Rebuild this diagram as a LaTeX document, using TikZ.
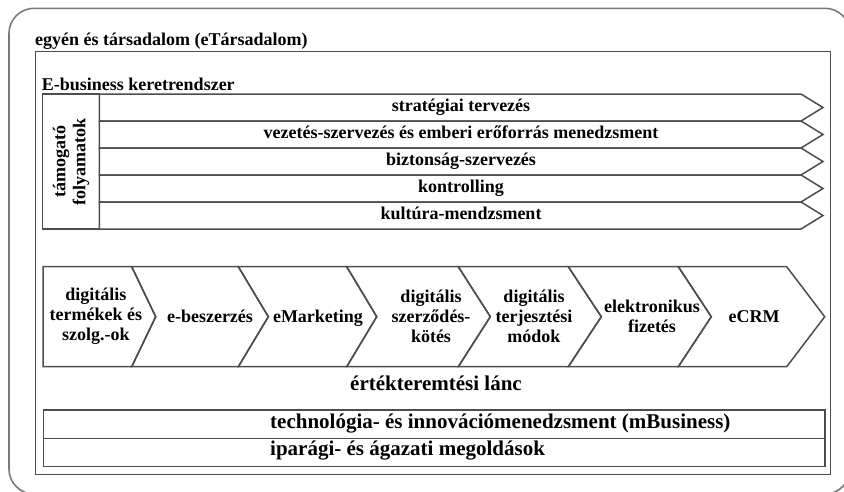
\documentclass[tikz,border=0pt]{standalone}
\usepackage{fontspec}
\setmainfont{Liberation Serif}[BoldFont={Liberation Serif Bold}]
\definecolor{ln}{HTML}{4D4D4D}
\definecolor{outerln}{HTML}{7A7A7A}
\begin{document}
\begin{tikzpicture}[x=1pt,y=-1pt,line join=miter,
  box/.style={draw=ln,line width=1.5pt},
  lbl/.style={font=\fontsize{18}{20}\selectfont\bfseries,inner sep=0pt,align=center},
  big/.style={font=\fontsize{21}{24}\selectfont\bfseries,inner sep=0pt}]
\useasboundingbox (0,0) rectangle (844,491);
\begin{scope}
  \clip (0,0) rectangle (844,491);
  \draw[draw=outerln,line width=1.6pt,rounded corners=25pt] (9,8.3) rectangle (850,494);
\end{scope}
% society box
\node[lbl,anchor=base west] (society) at (35,45) {egyén és társadalom (eTársadalom)};
\draw[box] (35.7,51.7) rectangle (830.7,474.3);
% e-business framework
\node[lbl,anchor=base west] (framework) at (41.7,90.7) {E-business keretrendszer};
\draw[box] (42.7,94) rectangle (99.3,229);
\node[lbl,rotate=90] (support) at (71,161.5) {támogató\\folyamatok};
\foreach \t/\txt [count=\i] in {94/stratégiai tervezés,121/vezetés-szervezés és emberi erőforrás menedzsment,148/biztonság-szervezés,175/kontrolling,202/kultúra-mendzsment}{
  \draw[box] (99.3,\t) -- (801,\t) -- (823,\t+13.5) -- (801,\t+27) -- (99.3,\t+27) -- cycle;
  \node[lbl,anchor=base] (sup\i) at (461,\t+17.5) {\txt};
}
% value chain chevrons
\def\ct{266.7}\def\cm{316.7}\def\cb{366.7}
\draw[box] (43,\ct) -- (131.7,\ct) -- (155.7,\cm) -- (131.7,\cb) -- (43,\cb) -- cycle;
\foreach \a/\da/\b/\db in {131.7/24/238.3/30, 238.3/30/346.7/30, 346.7/30/458.3/32, 458.3/32/568.3/33, 568.3/33/678.3/33, 678.3/33/786.7/38}{
  \draw[box] (\a,\ct) -- (\b,\ct) -- (\b+\db,\cm) -- (\b,\cb) -- (\a,\cb) -- (\a+\da,\cm) -- cycle;
}
\node[lbl] (c1) at (95.8,\cm) {digitális\\termékek és\\szolg.-ok};
\node[lbl,anchor=base] (c2) at (210,322) {e-beszerzés};
\node[lbl,anchor=base] (c3) at (318,322) {eMarketing};
\node[lbl] (c4) at (431,\cm) {digitális\\szerződés-\\kötés};
\node[lbl] (c5) at (534,\cm) {digitális\\terjesztési\\módok};
\node[lbl] (c6) at (652,\cm) {elektronikus\\fizetés};
\node[lbl,anchor=base] (c7) at (754,322) {eCRM};
\node[big,anchor=base] (chain) at (436,390) {értékteremtési lánc};
% bottom table
\draw[box] (43.3,410) rectangle (825,466.7);
\draw[box] (43.3,438.3) -- (825,438.3);
\node[big,anchor=base west] (tech) at (270,428.3) {technológia- és innovációmenedzsment (mBusiness)};
\node[big,anchor=base west] (industry) at (270,455) {iparági- és ágazati megoldások};
\end{tikzpicture}
\end{document}
